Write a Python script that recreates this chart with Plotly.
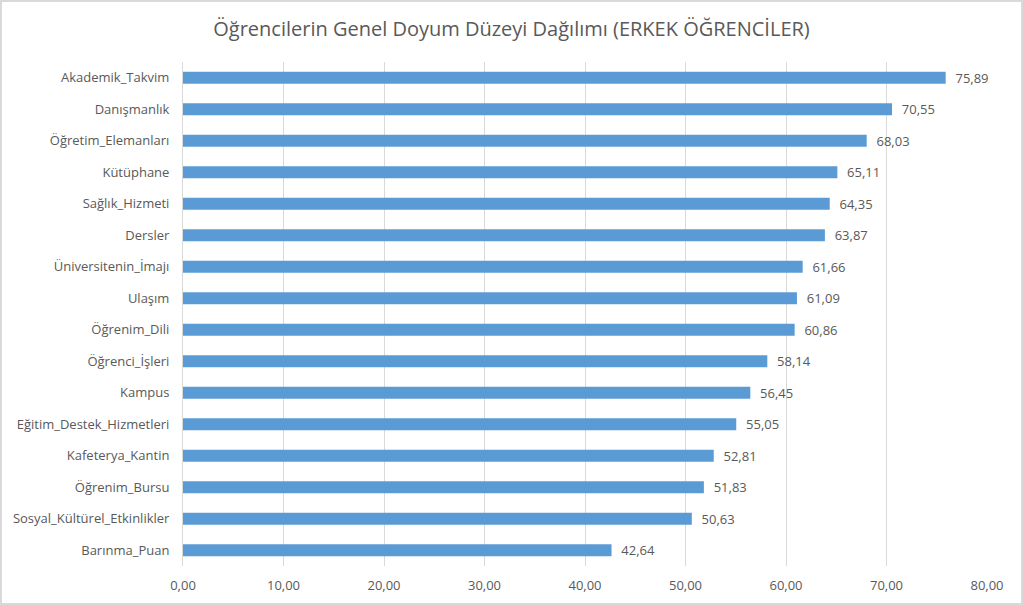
import plotly.graph_objects as go

categories = ["Akademik_Takvim", "Danışmanlık", "Öğretim_Elemanları", "Kütüphane",
              "Sağlık_Hizmeti", "Dersler", "Üniversitenin_İmajı", "Ulaşım",
              "Öğrenim_Dili", "Öğrenci_İşleri", "Kampus", "Eğitim_Destek_Hizmetleri",
              "Kafeterya_Kantin", "Öğrenim_Bursu", "Sosyal_Kültürel_Etkinlikler", "Barınma_Puan"]
values = [75.89, 70.55, 68.03, 65.11, 64.35, 63.87, 61.66, 61.09,
          60.86, 58.14, 56.45, 55.05, 52.81, 51.83, 50.63, 42.64]
x_ticks = [0, 10, 20, 30, 40, 50, 60, 70, 80]

font = "Open Sans, Lato, sans-serif"
txt = "#595959"

fig = go.Figure(go.Bar(
    y=categories, x=values, orientation="h",
    marker=dict(color="#5B9BD5", line=dict(width=0)),
    texttemplate="\u00a0\u00a0%{x:.2f}", textposition="outside", constraintext="none",
    textfont=dict(family=font, size=13, color=txt),
    cliponaxis=False,
))

fig.update_layout(
    width=1023, height=605,
    margin=dict(l=183, r=36, t=62, b=39),
    paper_bgcolor="white", plot_bgcolor="white",
    separators=",.",
    bargap=0.62,
    showlegend=False,
    title=dict(text="Öğrencilerin Genel Doyum Düzeyi Dağılımı (ERKEK ÖĞRENCİLER)",
               x=0.5, xanchor="center", y=0.952, yanchor="middle",
               font=dict(family=font, size=20, color=txt)),
    xaxis=dict(range=[0, 80], tickvals=x_ticks, tickformat=".2f",
               showgrid=True, gridcolor="#D9D9D9", gridwidth=1,
               zeroline=False, showline=False, ticks="",
               tickfont=dict(family=font, size=13, color=txt), ticklabelstandoff=10),
    yaxis=dict(autorange="reversed", showgrid=False, zeroline=False,
               showline=True, linecolor="#D9D9D9", linewidth=1, ticks="",
               tickfont=dict(family=font, size=13, color=txt), ticklabelstandoff=10),
    shapes=[dict(type="rect", xref="paper", yref="paper", x0=-182/804, x1=1+35/804,
                 y0=-38/504, y1=1+61/504, line=dict(color="#D9D9D9", width=2))],
)

fig.write_html("out.html", config={"displayModeBar": False},
               post_script="document.body.style.margin='0';")
